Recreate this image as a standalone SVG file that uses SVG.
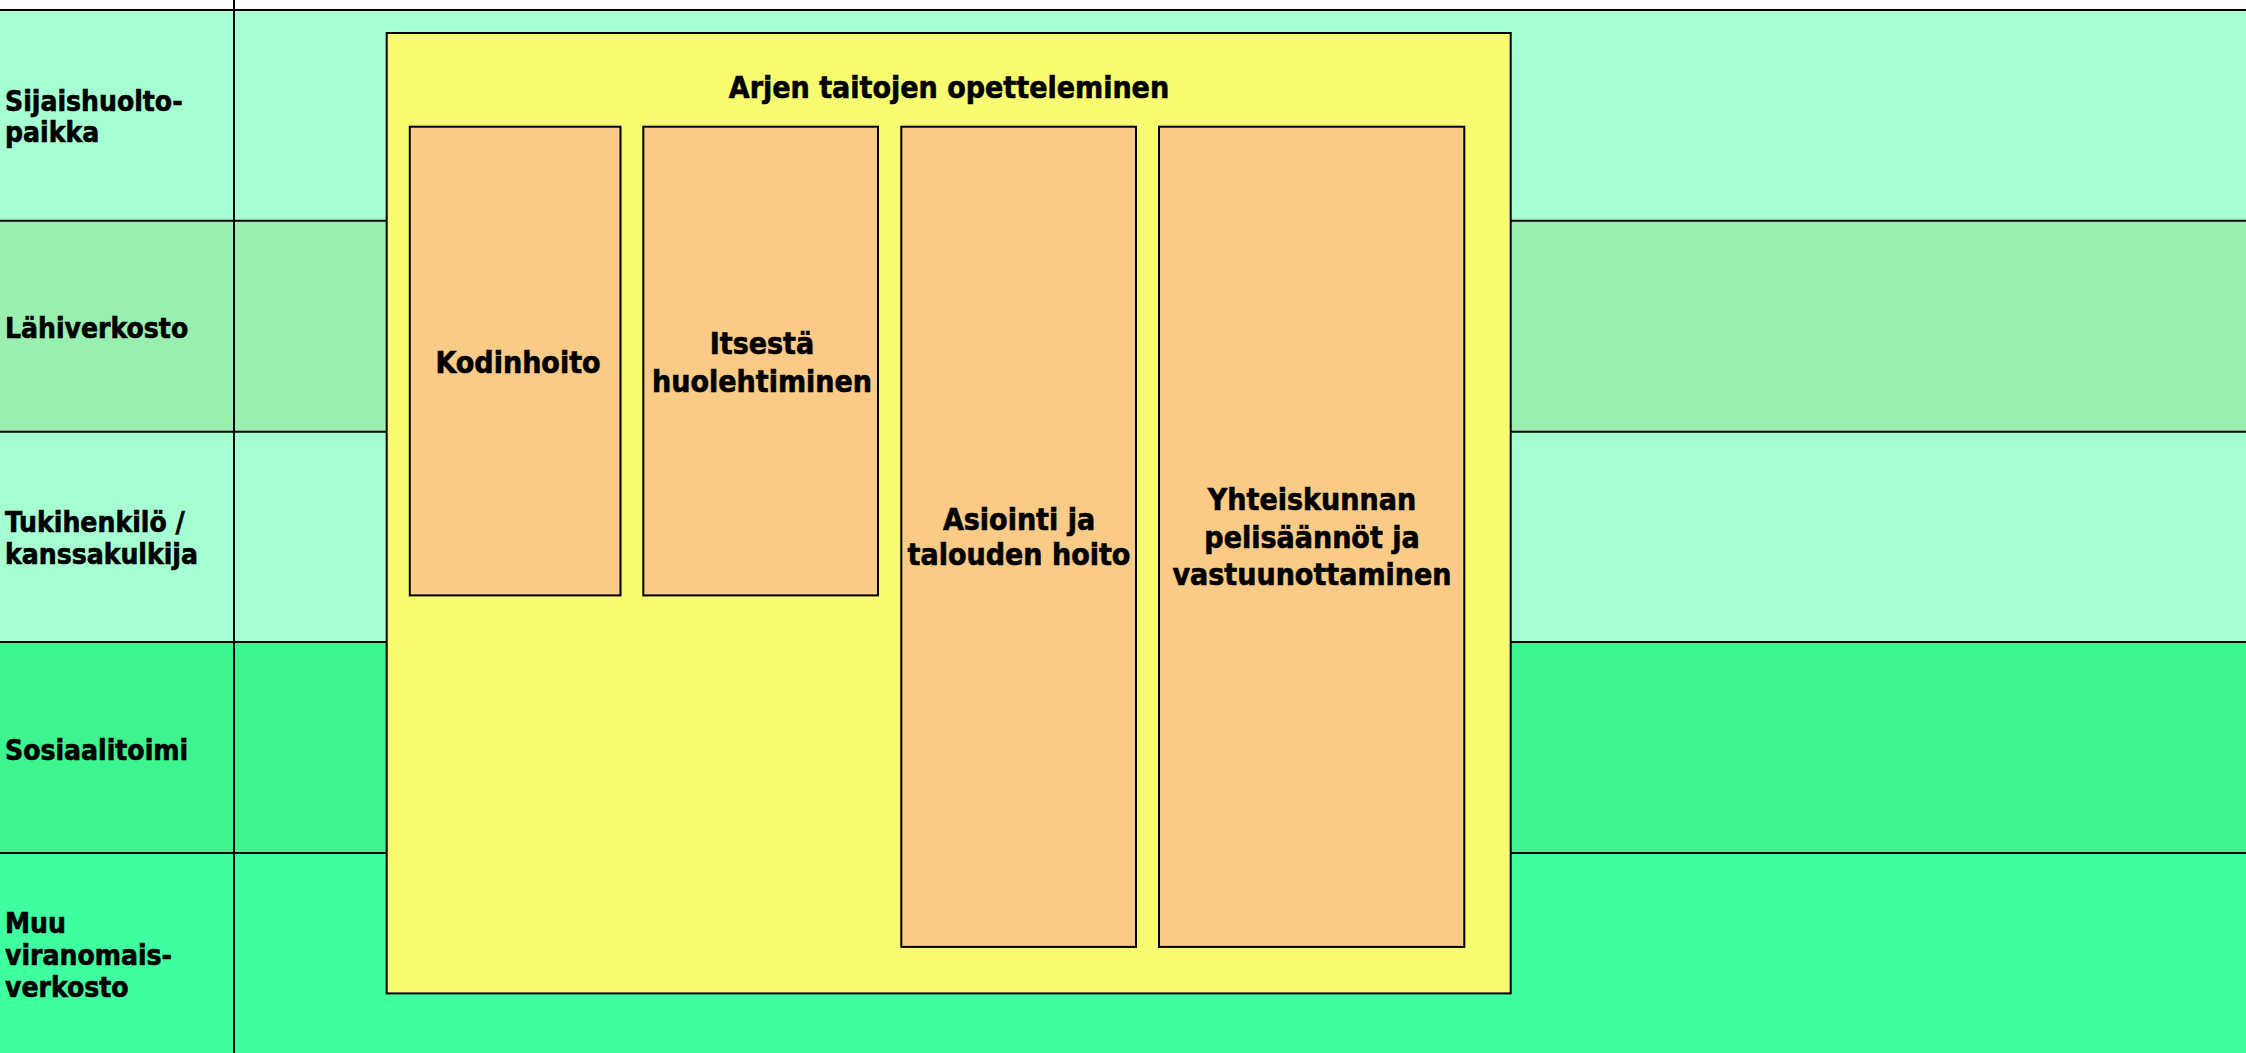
<svg xmlns="http://www.w3.org/2000/svg" width="2246" height="1053" viewBox="0 0 2246 1053">
<style>
.t{font-family:"DejaVu Sans Condensed","DejaVu Sans",sans-serif;font-weight:bold;font-stretch:condensed;fill:#000;stroke:#000;stroke-width:0.6}
.lab{font-size:28px}
.bx{font-size:30px;text-anchor:middle}
.ln{stroke:#000;stroke-width:2;fill:none}
.box{fill:#F9CB87;stroke:#000;stroke-width:2}
</style>
<rect x="0" y="0" width="2246" height="1053" fill="#FFFFFF"/>
<g id="lane-sijaishuoltopaikka">
<rect x="0" y="10" width="2246" height="210.7" fill="#A6FFD0"/>
<text class="t lab" x="5" y="110.7">Sijaishuolto-</text>
<text class="t lab" x="5" y="141.7">paikka</text>
</g>
<g id="lane-lahiverkosto">
<rect x="0" y="220.7" width="2246" height="211" fill="#98EFB0"/>
<text class="t lab" x="5" y="337.5">Lähiverkosto</text>
</g>
<g id="lane-tukihenkilo">
<rect x="0" y="431.7" width="2246" height="210.2" fill="#A6FFD0"/>
<text class="t lab" x="5" y="531.5">Tukihenkilö /</text>
<text class="t lab" x="5" y="564.2">kanssakulkija</text>
</g>
<g id="lane-sosiaalitoimi">
<rect x="0" y="641.9" width="2246" height="211.1" fill="#3DF48E"/>
<text class="t lab" x="5" y="759.6">Sosiaalitoimi</text>
</g>
<g id="lane-muu">
<rect x="0" y="853" width="2246" height="200" fill="#40FFA0"/>
<text class="t lab" x="5" y="932.6">Muu</text>
<text class="t lab" x="5" y="965.3">viranomais-</text>
<text class="t lab" x="5" y="996.9">verkosto</text>
</g>
<g id="grid">
<line class="ln" x1="0" y1="10" x2="2246" y2="10"/>
<line class="ln" x1="0" y1="220.7" x2="2246" y2="220.7"/>
<line class="ln" x1="0" y1="431.7" x2="2246" y2="431.7"/>
<line class="ln" x1="0" y1="641.9" x2="2246" y2="641.9"/>
<line class="ln" x1="0" y1="853" x2="2246" y2="853"/>
<line class="ln" x1="234" y1="0" x2="234" y2="1053"/>
</g>
<g id="arjen-taitojen-opetteleminen">
<rect x="386.7" y="33" width="1124" height="960.4" fill="#F8FC70" stroke="#000" stroke-width="2"/>
<text class="t bx" x="949" y="97.7">Arjen taitojen opetteleminen</text>
</g>
<g id="kodinhoito">
<rect class="box" x="409.8" y="126.7" width="210.7" height="468.7"/>
<text class="t bx" x="518" y="372.7">Kodinhoito</text>
</g>
<g id="itsesta-huolehtiminen">
<rect class="box" x="643.3" y="126.7" width="234.7" height="468.7"/>
<text class="t bx" x="762" y="354.3">Itsestä</text>
<text class="t bx" x="762" y="391.7">huolehtiminen</text>
</g>
<g id="asiointi">
<rect class="box" x="901.3" y="126.7" width="234.7" height="820.2"/>
<text class="t bx" x="1019" y="529.6">Asiointi ja</text>
<text class="t bx" x="1019" y="565.4">talouden hoito</text>
</g>
<g id="yhteiskunnan-pelisaannot">
<rect class="box" x="1159" y="126.7" width="305.3" height="820.2"/>
<text class="t bx" x="1312" y="510.4">Yhteiskunnan</text>
<text class="t bx" x="1312" y="548">pelisäännöt ja</text>
<text class="t bx" x="1312" y="584.6">vastuunottaminen</text>
</g>
</svg>
